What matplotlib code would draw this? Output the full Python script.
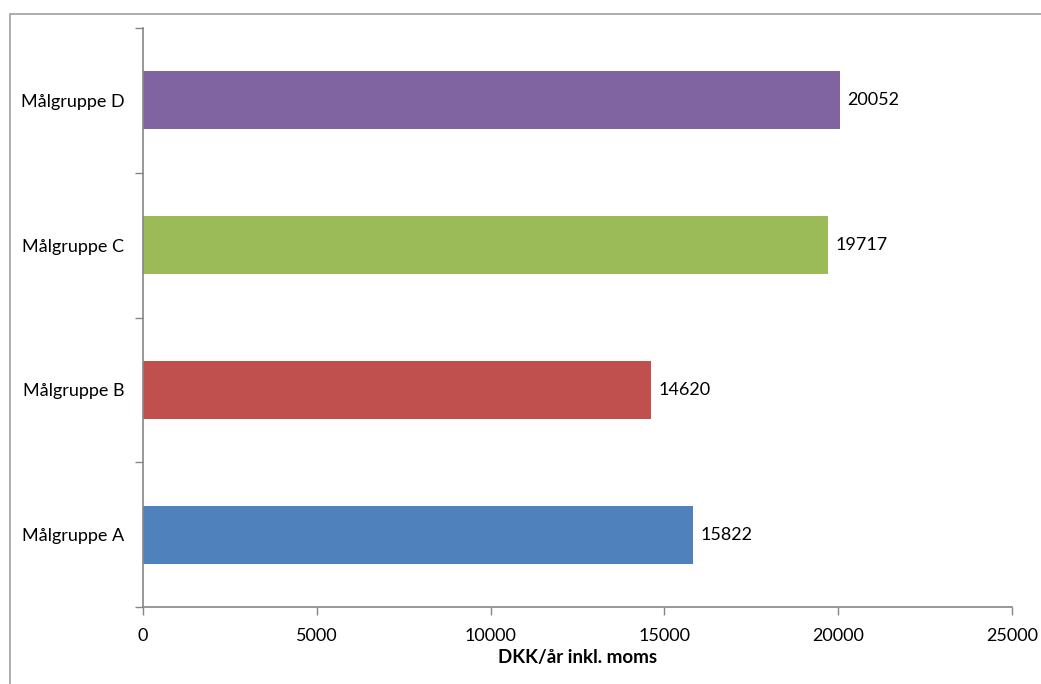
import matplotlib.pyplot as plt
from matplotlib.patches import Rectangle

groups = ["Målgruppe A", "Målgruppe B", "Målgruppe C", "Målgruppe D"]
values = [15822, 14620, 19717, 20052]
colors = ["#4F81BD", "#C0504D", "#9BBB59", "#8064A2"]
x_ticks = [0, 5000, 10000, 15000, 20000, 25000]

plt.rcParams['font.family'] = ['Lato', 'DejaVu Sans']
axis_grey = "#868686"

fig = plt.figure(figsize=(10.41, 6.84), dpi=100)
ax = fig.add_axes([143 / 1041, 1 - 607 / 684, 869 / 1041, 579 / 684])

pos = list(range(len(groups)))
ax.barh(pos, values, height=0.4, color=colors)
for p, v in zip(pos, values):
  ax.text(v + 220, p, str(v), va='center', ha='left', fontsize=13, color='black')

ax.set_xlim(0, 25000)
ax.set_ylim(-0.5, len(groups) - 0.5)
ax.set_xticks(x_ticks)
ax.set_xticklabels([str(t) for t in x_ticks], fontsize=13)
ax.set_yticks(pos)
ax.set_yticklabels(groups, fontsize=13)
ax.set_yticks([p - 0.5 for p in range(len(groups) + 1)], minor=True)
ax.tick_params(axis='y', which='major', length=0, pad=13.5)
ax.tick_params(axis='y', which='minor', length=6, color=axis_grey, width=1)
ax.tick_params(axis='x', length=6, color=axis_grey, width=1, pad=9)

for side in ['top', 'right']:
  ax.spines[side].set_visible(False)
for side in ['left', 'bottom']:
  ax.spines[side].set_color(axis_grey)
  ax.spines[side].set_linewidth(1.2)

ax.set_xlabel("DKK/år inkl. moms", fontsize=13.5, fontweight='bold', labelpad=4)

# chart frame
fig.patches.append(Rectangle((9.5 / 1041, -0.1), 1.2, 1 - 13.5 / 684 + 0.1,
                             transform=fig.transFigure, fill=False,
                             edgecolor="#A0A0A0", linewidth=1.2))

fig.savefig("out.png", dpi=100)
